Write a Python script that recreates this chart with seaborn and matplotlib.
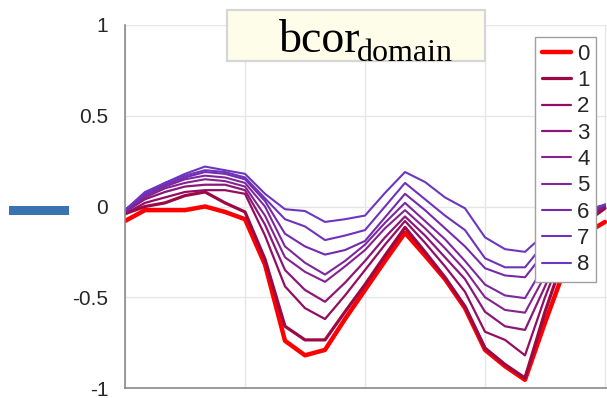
import numpy as np
import pandas as pd
import matplotlib
matplotlib.use("Agg")
import matplotlib.pyplot as plt
from matplotlib.patches import Rectangle
import seaborn as sns

# Sample index along the horizontal axis
steps = list(range(25))

# Correlation profiles, one per lag level
lag0 = [-0.08, -0.02, -0.02, -0.02, 0.00, -0.03, -0.07, -0.32, -0.74, -0.82, -0.79, -0.62, -0.46,
        -0.30, -0.145, -0.27, -0.40, -0.56, -0.79, -0.88, -0.955, -0.64, -0.34, -0.15, -0.085]
lag1 = [-0.04, 0.00, 0.02, 0.06, 0.08, 0.02, -0.03, -0.29, -0.66, -0.735, -0.735, -0.58, -0.43,
        -0.27, -0.115, -0.25, -0.39, -0.55, -0.78, -0.87, -0.945, -0.58, -0.26, -0.09, -0.01]
lag2 = [-0.04, 0.02, 0.05, 0.08, 0.09, 0.09, 0.07, -0.16, -0.44, -0.56, -0.62, -0.49, -0.35,
        -0.21, -0.08, -0.20, -0.33, -0.47, -0.69, -0.735, -0.82, -0.50, -0.22, -0.08, 0.00]
lag3 = [-0.03, 0.04, 0.08, 0.11, 0.12, 0.12, 0.09, -0.10, -0.35, -0.46, -0.525, -0.42, -0.30,
        -0.17, -0.055, -0.16, -0.28, -0.40, -0.58, -0.66, -0.68, -0.44, -0.18, -0.07, 0.00]
lag4 = [-0.03, 0.05, 0.10, 0.13, 0.15, 0.14, 0.11, -0.05, -0.28, -0.36, -0.415, -0.33, -0.24,
        -0.12, -0.02, -0.12, -0.23, -0.35, -0.50, -0.57, -0.585, -0.38, -0.16, -0.06, 0.01]
lag5 = [-0.02, 0.06, 0.11, 0.15, 0.17, 0.16, 0.13, 0.00, -0.22, -0.31, -0.375, -0.30, -0.21,
        -0.09, 0.02, -0.08, -0.18, -0.30, -0.43, -0.49, -0.505, -0.32, -0.13, -0.05, 0.01]
lag6 = [-0.02, 0.07, 0.12, 0.16, 0.19, 0.18, 0.15, 0.03, -0.15, -0.22, -0.265, -0.24, -0.19,
        -0.06, 0.07, -0.02, -0.12, -0.22, -0.34, -0.38, -0.39, -0.25, -0.10, -0.04, 0.01]
lag7 = [-0.02, 0.07, 0.13, 0.17, 0.20, 0.19, 0.16, 0.045, -0.07, -0.11, -0.185, -0.16, -0.13,
        0.00, 0.13, 0.04, -0.05, -0.13, -0.285, -0.335, -0.335, -0.20, -0.08, -0.03, 0.01]
lag8 = [-0.02, 0.08, 0.13, 0.18, 0.22, 0.20, 0.18, 0.07, -0.015, -0.025, -0.085, -0.07, -0.05,
        0.075, 0.19, 0.135, 0.05, -0.01, -0.17, -0.235, -0.25, -0.15, -0.06, -0.02, 0.01]

series_labels = ["0", "1", "2", "3", "4", "5", "6", "7", "8"]
series_values = [lag0, lag1, lag2, lag3, lag4, lag5, lag6, lag7, lag8]
y_ticks = [-1, -0.5, 0, 0.5, 1]
y_tick_labels = ["-1", "-0.5", "0", "0.5", "1"]

# red for lag 0, then a crimson-to-violet ramp
colors = ["#ff0000", "#9c0a45", "#930d62", "#8a1878", "#84228f", "#7c279f", "#7529ad", "#7032b8", "#6c36c0"]
widths = [3.2, 2.3, 1.6, 1.6, 1.5, 1.5, 1.5, 1.5, 1.5]

sns.set_style("white")
plt.rcParams["font.family"] = ["Liberation Sans", "DejaVu Sans"]

W, H = 607, 398
fig = plt.figure(figsize=(W / 100, H / 100), dpi=100)
ax = fig.add_axes([125 / W, 1 - 388 / H, (607 - 125) / W, (388 - 25) / H])

df = pd.DataFrame({
    "step": np.tile(steps, len(series_values)),
    "value": np.concatenate(series_values),
    "lag": np.repeat(series_labels, len(steps)),
})
for lab, col, lw in zip(series_labels, colors, widths):
    sub = df[df["lag"] == lab]
    sns.lineplot(data=sub, x="step", y="value", color=col, linewidth=lw,
                 label=lab, ax=ax, estimator=None, sort=False)

ax.set_xlim(0, 24.1)
ax.set_ylim(-1, 1)
ax.set_xticks([0, 6, 12, 18, 24])
ax.set_xticklabels([])
ax.set_yticks(y_ticks)
ax.set_yticklabels(y_tick_labels)
ax.set_xlabel("")
ax.set_ylabel("")
ax.grid(True, color="#e6e6e6", linewidth=1.0)
ax.set_axisbelow(True)
ax.tick_params(axis="both", direction="in", length=5, width=1, color="#808080",
               labelsize=15, labelcolor="#262626", pad=12)
ax.tick_params(axis="x", pad=4)
for side in ["top", "right"]:
    ax.spines[side].set_visible(False)
for side in ["left", "bottom"]:
    ax.spines[side].set_color("#8a8a8a")
    ax.spines[side].set_linewidth(1.2)

leg = ax.legend(loc="upper left", bbox_to_anchor=(535 / W, 1 - 37 / H),
                bbox_transform=fig.transFigure, fontsize=16, frameon=True,
                fancybox=False, handlelength=1.3, handletextpad=0.3,
                borderpad=0.3, labelspacing=0.24, borderaxespad=0)
leg.get_frame().set_edgecolor("#a0a0a0")
leg.get_frame().set_linewidth(1.0)
leg.get_frame().set_facecolor("white")
leg.get_frame().set_alpha(1.0)

# title box
fig.patches.append(Rectangle((227 / W, 1 - 61 / H), 258 / W, 51 / H, transform=fig.transFigure,
                             facecolor="#fdfde9", edgecolor="#d6d6d6", linewidth=1.6, zorder=5))
fig.text(279 / W, 1 - 52 / H, "bcor", fontsize=33, family=["Liberation Serif", "DejaVu Serif"],
         ha="left", va="baseline", color="black", zorder=6)
fig.text(357 / W, 1 - 61 / H, "domain", fontsize=23, family=["Liberation Serif", "DejaVu Serif"],
         ha="left", va="baseline", color="black", zorder=6)

# short blue bar at the left margin
fig.patches.append(Rectangle((9 / W, 1 - 215 / H), 60 / W, 9 / H, transform=fig.transFigure,
                             facecolor="#3b72b0", edgecolor="none", zorder=5))

fig.savefig("out.png", dpi=100)
